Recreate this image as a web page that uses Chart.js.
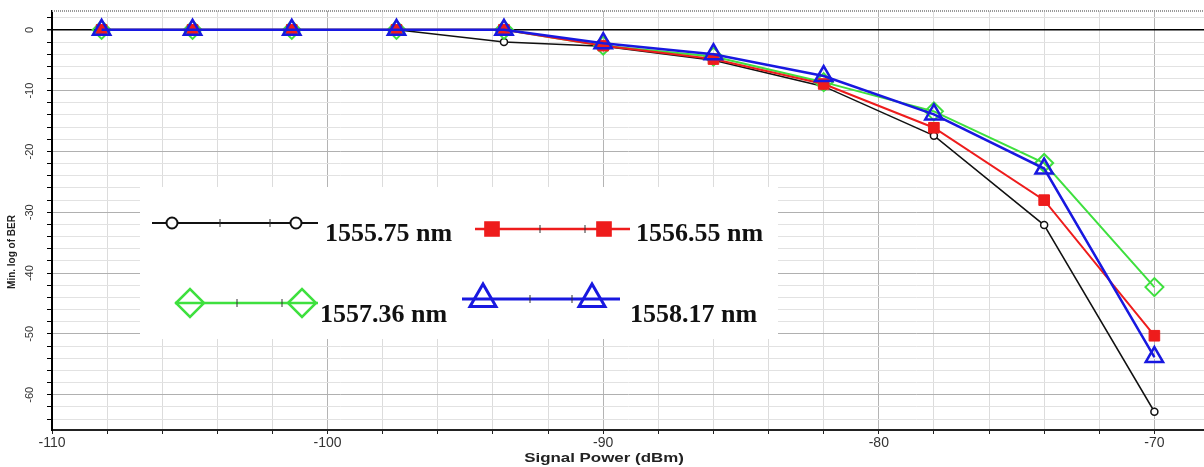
<!DOCTYPE html>
<html>
<head>
<meta charset="utf-8">
<script src="https://cdn.jsdelivr.net/npm/chart.js@4.4.1/dist/chart.umd.min.js"></script>
<style>
html, body { margin: 0; padding: 0; background: #fff; overflow: hidden; }
#wrap { width: 1204px; height: 467px; position: relative; }
</style>
</head>
<body>
<div id="wrap"><canvas id="ber"></canvas></div>
<script>
// signal power (dBm) and min log(BER) per wavelength
const power = [-108.2, -104.9, -101.3, -97.5, -93.6, -90, -86, -82, -78, -74, -70];
const ber1555_75 = [0, 0, 0, 0, -2.0, -2.7, -5.0, -9.3, -17.4, -32.1, -62.8];
const ber1556_55 = [0, 0, 0, 0, 0, -2.6, -4.8, -8.9, -16.1, -28.0, -50.3];
const ber1557_36 = [0, 0, 0, 0, 0, -2.6, -4.4, -8.6, -13.4, -21.9, -42.3];
const ber1558_17 = [0, 0, 0, 0, 0, -2.2, -4.0, -7.6, -13.9, -22.8, -53.8];
const seriesNames = ['1555.75 nm', '1556.55 nm', '1557.36 nm', '1558.17 nm'];

function pts(ys) {
    return power.map((x, i) => ({ x: x, y: ys[i] }));
}

// inset legend layout (positions only)
const legendLayout = [
    { line: [152, 318, 223], marks: [172, 296], ticks: [220, 270], text: [325, 241], r: 5.5 },
    { line: [475, 630, 229], marks: [492, 604], ticks: [540, 585], text: [636, 241], r: 10 },
    { line: [175, 318, 303], marks: [190, 302], ticks: [237, 282], text: [320, 322], r: 14 },
    { line: [462, 620, 299], marks: [483, 592], ticks: [530, 572], text: [630, 322], r: 15 }
];

const insetLegend = {
    id: 'insetLegend',
    afterDatasetsDraw(chart) {
        const ctx = chart.ctx;
        ctx.save();
        ctx.fillStyle = '#fff';
        ctx.fillRect(140, 187, 638, 152);
        chart.data.datasets.forEach((ds, i) => {
            const L = legendLayout[i];
            ctx.strokeStyle = ds.borderColor;
            ctx.lineWidth = ds.borderWidth + 0.5;
            ctx.beginPath();
            ctx.moveTo(L.line[0], L.line[2]);
            ctx.lineTo(L.line[1], L.line[2]);
            ctx.stroke();
            ctx.strokeStyle = '#333';
            ctx.lineWidth = 1;
            L.ticks.forEach(tx => {
                ctx.beginPath();
                ctx.moveTo(tx, L.line[2] - 4);
                ctx.lineTo(tx, L.line[2] + 4);
                ctx.stroke();
            });
            L.marks.forEach(mx => {
                ctx.fillStyle = ds.pointBackgroundColor;
                ctx.strokeStyle = ds.pointBorderColor;
                ctx.lineWidth = ds.pointBorderWidth + 0.5;
                Chart.helpers.drawPoint(ctx, {
                    pointStyle: ds.pointStyle, radius: L.r, rotation: 0,
                    borderWidth: ds.pointBorderWidth + 0.5
                }, mx, L.line[2]);
            });
            ctx.fillStyle = '#111';
            ctx.font = 'bold 26px "Liberation Serif"';
            ctx.textAlign = 'left';
            ctx.textBaseline = 'alphabetic';
            ctx.fillText(ds.label, L.text[0], L.text[1]);
        });
        ctx.restore();
    },
    afterDraw(chart) {
        const ctx = chart.ctx;
        const a = chart.chartArea;
        ctx.save();
        // dotted top frame
        ctx.strokeStyle = '#999';
        ctx.setLineDash([1, 1]);
        ctx.lineWidth = 2;
        ctx.beginPath();
        ctx.moveTo(a.left, a.top);
        ctx.lineTo(a.right, a.top);
        ctx.stroke();
        ctx.setLineDash([]);
        // axis titles
        ctx.fillStyle = '#222';
        ctx.textAlign = 'center';
        ctx.textBaseline = 'middle';
        ctx.save();
        ctx.translate(604, 458);
        ctx.scale(1.3, 1);
        ctx.font = 'bold 13px "Liberation Sans"';
        ctx.fillText('Signal Power (dBm)', 0, 0);
        ctx.restore();
        ctx.save();
        ctx.translate(12, 252);
        ctx.rotate(-Math.PI / 2);
        ctx.font = 'bold 10px "Liberation Sans"';
        ctx.fillText('Min. log of BER', 0, 0);
        ctx.restore();
        ctx.restore();
    }
};

function noPad(s) {
    s.paddingLeft = 0;
    s.paddingRight = 0;
    s.paddingTop = 0;
    s.paddingBottom = 0;
}

const ctx = document.getElementById('ber');
new Chart(ctx, {
    type: 'line',
    data: {
        datasets: [
            {
                label: seriesNames[0], data: pts(ber1555_75), order: 3,
                borderColor: '#111', borderWidth: 1.5,
                pointStyle: 'circle', pointRadius: 3.5, pointBorderWidth: 1.5,
                pointBorderColor: '#111', pointBackgroundColor: '#fff'
            },
            {
                label: seriesNames[1], data: pts(ber1556_55), order: 1,
                borderColor: '#ee1c1c', borderWidth: 2,
                pointStyle: 'rect', pointRadius: 7.5, pointBorderWidth: 1,
                pointBorderColor: '#ee1c1c', pointBackgroundColor: '#ee1c1c'
            },
            {
                label: seriesNames[2], data: pts(ber1557_36), order: 2,
                borderColor: '#3ee03e', borderWidth: 2,
                pointStyle: 'rectRot', pointRadius: 9, pointBorderWidth: 2,
                pointBorderColor: '#3ee03e', pointBackgroundColor: 'rgba(255,255,255,0)'
            },
            {
                label: seriesNames[3], data: pts(ber1558_17), order: 0,
                borderColor: '#1818e0', borderWidth: 2.5,
                pointStyle: 'triangle', pointRadius: 10, pointBorderWidth: 2.5,
                pointBorderColor: '#1818e0', pointBackgroundColor: 'rgba(255,255,255,0)'
            }
        ]
    },
    options: {
        responsive: true,
        maintainAspectRatio: false,
        animation: false,
        layout: { autoPadding: false, padding: { top: 11, right: 0, left: 0, bottom: 0 } },
        plugins: {
            legend: { display: false },
            tooltip: { enabled: false }
        },
        scales: {
            x: {
                type: 'linear',
                min: -110,
                max: -68.2,
                afterFit: s => { s.height = 37; noPad(s); },
                border: { color: '#222', width: 2 },
                grid: {
                    tickLength: 4,
                    tickColor: '#222',
                    color: c => c.tick.value % 10 === 0 ? '#b4b4b4' : (c.tick.value % 2 === 0 ? '#dcdcdc' : 'rgba(0,0,0,0)')
                },
                ticks: {
                    stepSize: 2,
                    includeBounds: false,
                    autoSkip: false,
                    maxRotation: 0,
                    padding: 1,
                    color: '#333',
                    font: { family: 'Liberation Sans', size: 14 },
                    callback: v => v % 10 === 0 ? String(v) : ''
                }
            },
            y: {
                min: -65.8,
                max: 3.1,
                afterFit: s => { s.width = 52; noPad(s); },
                border: { color: '#000', width: 2 },
                grid: {
                    tickLength: 5,
                    tickColor: '#000',
                    lineWidth: c => c.tick.value === 0 ? 1.5 : 1,
                    color: c => c.tick.value === 0 ? '#000' : (c.tick.value % 10 === 0 ? '#b0b0b0' : (c.tick.value % 2 === 0 ? '#e2e2e2' : 'rgba(0,0,0,0)'))
                },
                ticks: {
                    stepSize: 2,
                    includeBounds: false,
                    autoSkip: false,
                    minRotation: 90,
                    maxRotation: 90,
                    crossAlign: 'center',
                    padding: 9,
                    color: '#333',
                    font: { family: 'Liberation Sans', size: 11 },
                    callback: v => v % 10 === 0 ? String(v) : ''
                }
            }
        }
    },
    plugins: [insetLegend]
});
</script>
</body>
</html>
